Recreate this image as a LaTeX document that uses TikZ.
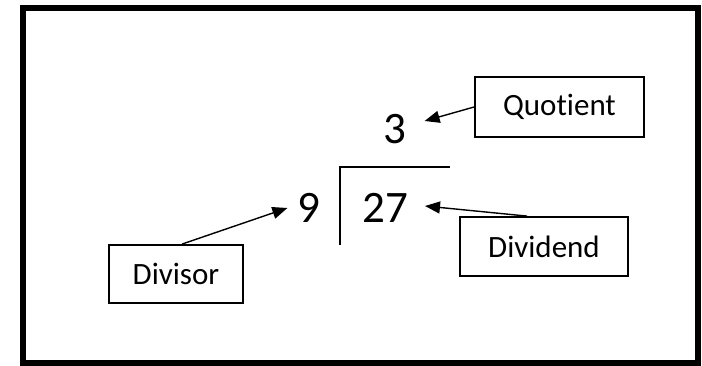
\documentclass[tikz,border=0pt]{standalone}
\usepackage{fontspec}
\setmainfont{Carlito}[Ligatures=NoCommon]
\usetikzlibrary{arrows.meta}
\begin{document}
\begin{tikzpicture}[x=1pt,y=-1pt,
  lbl/.style={draw, line width=1.8pt, font=\fontsize{31}{36}\selectfont, inner sep=0pt},
  num/.style={font=\fontsize{45}{50}\selectfont, inner sep=0pt},
  conn/.style={line width=1.4pt, -{Triangle[length=15pt,width=12pt]}}
]
\useasboundingbox (0,0) rectangle (702,366);
\draw[line width=5.5pt] (23,8) rectangle (698,363);
\node[lbl, minimum width=169pt, minimum height=60pt] (q) at (559.5,107) {Quotient};
\node[lbl, minimum width=134pt, minimum height=58pt] (d) at (176,274) {Divisor};
\node[lbl, minimum width=168pt, minimum height=59pt] (dd) at (544,246.5) {Dividend};
\node[num] (n3) at (395,129) {3};
\node[num] (n9) at (309,208) {9};
\node[num] (n27) at (385,208) {27};
\draw[line width=2.2pt] (450,167) -| (340,245);
\draw[conn] (q.west) -- ([xshift=18pt,yshift=8pt]n3.east);
\draw[conn] ([xshift=6pt]d.north) -- ([xshift=-10pt]n9.west);
\draw[conn] ([xshift=-17pt]dd.north) -- ([xshift=17pt,yshift=2pt]n27.east);
\end{tikzpicture}
\end{document}
